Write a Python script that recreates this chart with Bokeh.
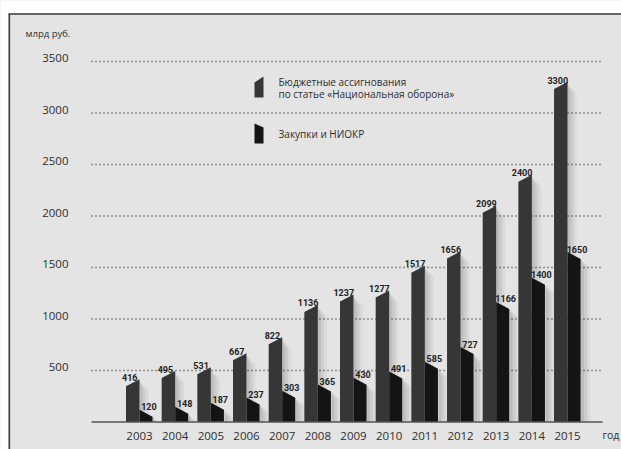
from bokeh.plotting import figure
from bokeh.models import Range1d, ColumnDataSource
from bokeh.core.properties import value
from bokeh.embed import file_html
from bokeh.resources import INLINE

# ---------------- data ----------------
years = ["2003", "2004", "2005", "2006", "2007", "2008", "2009",
         "2010", "2011", "2012", "2013", "2014", "2015"]
budget = [416, 495, 531, 667, 822, 1136, 1237, 1277, 1517, 1656, 2099, 2400, 3300]
procurement = [120, 148, 187, 237, 303, 365, 430, 491, 585, 727, 1166, 1400, 1650]
y_ticks = [500, 1000, 1500, 2000, 2500, 3000, 3500]
y_tick_labels = ["500", "1000", "1500", "2000", "2500", "3000", "3500"]
unit_label = "млрд руб."
x_unit_label = "год"
legend_budget = ["Бюджетные ассигнования", "по статье «Национальная оборона»"]
legend_procurement = ["Закупки и НИОКР"]

# ---------------- layout / style ----------------
W, H = 621, 449
PX_PER_YEAR = 35.67
X0_PX = 139.0
PX_PER_UNIT = 360.5 / 3500.0
Y0_PX = 421.5

BG = "#e4e4e4"
DARK = "#363636"
BLACK = "#141414"
TEXT = "#2e2e2e"


def X(px):
    return (px - X0_PX) / PX_PER_YEAR


def Y(py):
    return (Y0_PX - py) / PX_PER_UNIT


BAR_W = 13.5 / PX_PER_YEAR
SLANT = 7.0 / PX_PER_UNIT

p = figure(width=W, height=H, x_range=Range1d(X(0), X(W)), y_range=Range1d(Y(H), Y(0)),
           output_backend="svg", toolbar_location=None, min_border=0,
           x_axis_location=None, y_axis_location=None)
p.grid.visible = False
p.outline_line_color = None
p.background_fill_color = BG
p.border_fill_color = BG

# white strips outside the frame and frame lines
p.quad(left=[X(0)], right=[X(W)], bottom=[Y(13)], top=[Y(0)], fill_color="white", line_color=None)
p.quad(left=[X(0)], right=[X(8)], bottom=[Y(H)], top=[Y(0)], fill_color="white", line_color=None)
p.segment(x0=[X(8)], y0=[Y(13.5)], x1=[X(W)], y1=[Y(13.5)], line_color="#3a3a3a", line_width=1.6)
p.segment(x0=[X(8.8)], y0=[Y(13.5)], x1=[X(8.8)], y1=[Y(H)], line_color="#3a3a3a", line_width=1.6)

# dotted grid
gx0, gx1 = X(91), X(603)
p.segment(x0=[gx0] * len(y_ticks), y0=y_ticks, x1=[gx1] * len(y_ticks), y1=y_ticks,
          line_color="#3c3c3c", line_width=1.3, line_dash="1 3")

idx = list(range(len(years)))

# soft shadows to the right of the bars
for s, a in [(3, 0.07), (6, 0.06), (9, 0.045)]:
    sw = s / PX_PER_YEAR
    p.patches(xs=[[i, i + sw, i + sw, i] for i in idx],
              ys=[[0, 0, v - SLANT * 1.6, v - SLANT * 0.3] for v in budget],
              fill_color="black", fill_alpha=a, line_color=None)
    p.patches(xs=[[i + BAR_W, i + BAR_W + sw, i + BAR_W + sw, i + BAR_W] for i in idx],
              ys=[[0, 0, v - SLANT * 2.2, v - SLANT * 1.1] for v in procurement],
              fill_color="black", fill_alpha=a, line_color=None)

# bars
p.patches(xs=[[i - BAR_W, i - BAR_W, i, i] for i in idx],
          ys=[[0, v - SLANT, v, 0] for v in budget],
          fill_color=DARK, line_color=None)
p.patches(xs=[[i, i, i + BAR_W * 0.97, i + BAR_W * 0.97] for i in idx],
          ys=[[0, v, v - SLANT, 0] for v in procurement],
          fill_color=BLACK, line_color=None)

# baseline
p.segment(x0=[gx0], y0=[0], x1=[X(602)], y1=[0], line_color="#555555", line_width=1.6)

# value labels
vsrc = ColumnDataSource(dict(x=[i - 0.274 for i in idx], y=budget, t=[str(v) for v in budget]))
p.text(x="x", y="y", text="t", source=vsrc, text_font=value("Roboto"), text_font_style="bold",
       text_font_size="9px", text_color="#222222", text_align="center",
       text_baseline="alphabetic", y_offset=-2)
psrc = ColumnDataSource(dict(x=[i + 0.265 for i in idx], y=procurement, t=[str(v) for v in procurement]))
p.text(x="x", y="y", text="t", source=psrc, text_font=value("Roboto"), text_font_style="bold",
       text_font_size="9px", text_color="#222222", text_align="center",
       text_baseline="alphabetic", y_offset=-3)

# y tick labels
p.text(x=[X(68)] * len(y_ticks), y=y_ticks, text=y_tick_labels, text_font=value("Open Sans"),
       text_font_size="11.5px", text_color=TEXT, text_align="right", text_baseline="middle",
       y_offset=-3.5)
p.text(x=[X(25)], y=[Y(33)], text=[unit_label], text_font=value("Open Sans"),
       text_font_size="9.5px", text_color=TEXT, text_align="left", text_baseline="middle")

# year labels
p.text(x=idx, y=[Y(435)] * len(years), text=years, text_font=value("Open Sans"),
       text_font_size="11.5px", text_color=TEXT, text_align="center", text_baseline="middle")
p.text(x=[X(602)], y=[Y(434)], text=[x_unit_label], text_font=value("Open Sans"),
       text_font_size="10.5px", text_color=TEXT, text_align="left", text_baseline="middle")

# legend
p.patch(x=[X(254), X(254), X(263), X(263)], y=[Y(97), Y(82), Y(76), Y(97)],
        fill_color=DARK, line_color=None)
p.patch(x=[X(254), X(254), X(263), X(263)], y=[Y(143), Y(123), Y(127), Y(143)],
        fill_color=BLACK, line_color=None)
p.text(x=[X(278)] * 2, y=[Y(81), Y(93.3)], text=legend_budget, text_font=value("Open Sans"),
       text_font_size="10px", text_color=TEXT, text_align="left", text_baseline="middle")
p.text(x=[X(278)], y=[Y(133)], text=legend_procurement, text_font=value("Open Sans"),
       text_font_size="10px", text_color=TEXT, text_align="left", text_baseline="middle")

open("out.html", "w").write(file_html(p, INLINE))
